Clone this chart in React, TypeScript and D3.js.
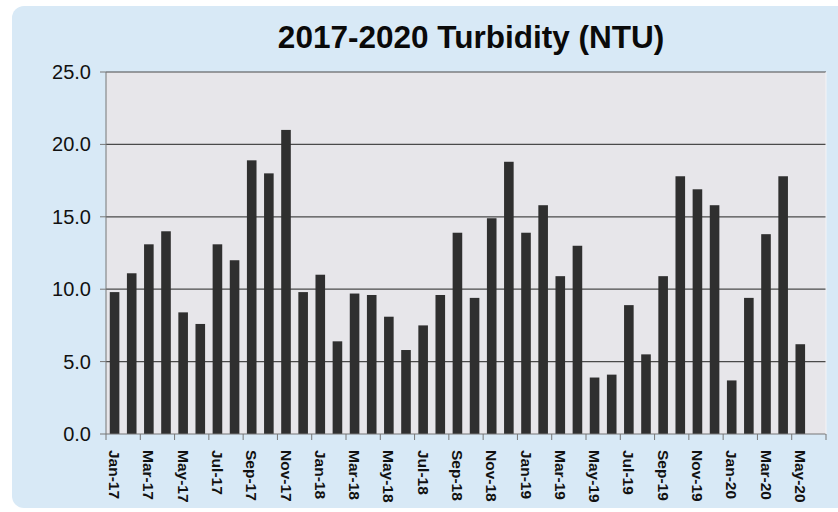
import React from "react";
import * as d3 from "d3";

const months: string[] = [
  "Jan-17","Feb-17","Mar-17","Apr-17","May-17","Jun-17","Jul-17","Aug-17","Sep-17","Oct-17","Nov-17","Dec-17",
  "Jan-18","Feb-18","Mar-18","Apr-18","May-18","Jun-18","Jul-18","Aug-18","Sep-18","Oct-18","Nov-18","Dec-18",
  "Jan-19","Feb-19","Mar-19","Apr-19","May-19","Jun-19","Jul-19","Aug-19","Sep-19","Oct-19","Nov-19","Dec-19",
  "Jan-20","Feb-20","Mar-20","Apr-20","May-20","Jun-20",
];

const turbidity: (number | null)[] = [
  9.8, 11.1, 13.1, 14.0, 8.4, 7.6, 13.1, 12.0, 18.9, 18.0, 21.0, 9.8,
  11.0, 6.4, 9.7, 9.6, 8.1, 5.8, 7.5, 9.6, 13.9, 9.4, 14.9, 18.8,
  13.9, 15.8, 10.9, 13.0, 3.9, 4.1, 8.9, 5.5, 10.9, 17.8, 16.9, 15.8,
  3.7, 9.4, 13.8, 17.8, 6.2, null,
];

const yTicks: number[] = [0, 5, 10, 15, 20, 25];
const title = "2017-2020 Turbidity (NTU)";

export default function App() {
  const W = 838, H = 512;
  const left = 106, right = 826, top = 72, bottom = 434;
  const x = d3.scaleBand<string>().domain(months).range([left, right]).paddingInner(0.44).paddingOuter(0.22);
  const y = d3.scaleLinear().domain([0, 25]).range([bottom, top]);
  const step = x.step();
  const font = "Arial, 'Liberation Sans', sans-serif";
  const boundaries = d3.range(0, months.length + 1, 2);

  return (
    <svg width={W} height={H} style={{ position: "absolute", left: 0, top: 0 }} fontFamily={font}>
      <rect x={0} y={0} width={W} height={H} fill="#ffffff" />
      <rect x={12} y={6} width={840} height={502} rx={12} fill="#d8e9f6" />
      <rect x={left} y={top} width={right - left} height={bottom - top} fill="#e7e6ea" />
      <text x={471} y={48} textAnchor="middle" fontSize={31.5} fontWeight="bold" fill="#0a0a0a">{title}</text>
      {yTicks.filter(t => t > 0).map(t => (
        <line key={"g" + t} x1={left} x2={right} y1={y(t)} y2={y(t)} stroke="#4a4a4a" strokeWidth={1.2} />
      ))}
      {months.map((m, i) => {
        const v = turbidity[i];
        if (v == null) return null;
        return (
          <rect key={m} x={x(m)!} y={y(v)} width={x.bandwidth()} height={y(0) - y(v)} fill="#2f2f2f" />
        );
      })}
      <line x1={left} x2={left} y1={top} y2={bottom} stroke="#777" strokeWidth={1} />
      <line x1={left} x2={right} y1={bottom} y2={bottom} stroke="#777" strokeWidth={1} />
      <line x1={right} x2={right} y1={top} y2={bottom} stroke="#f4f4f6" strokeWidth={1} />
      {yTicks.map(t => (
        <g key={"y" + t}>
          <line x1={left - 6} x2={left} y1={y(t)} y2={y(t)} stroke="#777" />
          <text x={left - 15} y={y(t)} dy="0.35em" textAnchor="end" fontSize={20} fill="#111">{t.toFixed(1)}</text>
        </g>
      ))}
      {boundaries.map(b => (
        <line key={"b" + b} x1={left + b * step} x2={left + b * step} y1={bottom} y2={bottom + 6} stroke="#777" />
      ))}
      {months.map((m, i) => {
        if (i % 2 !== 0 || i >= 41) return null;
        const cx = x(m)! + x.bandwidth() / 2;
        return (
          <text key={"l" + m} transform={`translate(${cx},${bottom + 16}) rotate(90)`} dy="0.35em"
            fontSize={15.5} fontWeight="bold" fill="#111">{m}</text>
        );
      })}
    </svg>
  );
}
